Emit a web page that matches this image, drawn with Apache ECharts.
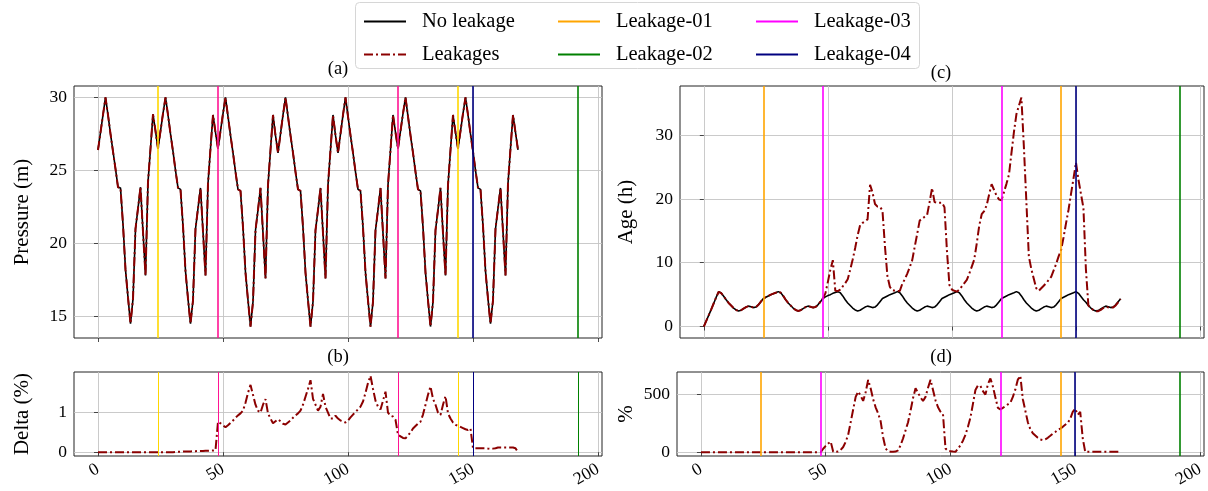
<!DOCTYPE html>
<html><head><meta charset="utf-8">
<script src="https://cdn.jsdelivr.net/npm/echarts@6/dist/echarts.min.js"></script>
<style>html,body{margin:0;padding:0;background:#fff}#c{width:1208px;height:491px}</style>
</head><body><div id="c"></div>
<script>
// ---------------- DATA (hourly, t = 0 .. 168 h) ----------------
const pressureNoLeak = [
 26.4,27.6,28.8,30.0,28.8,27.5,26.3,25.1,23.85,23.8,21.3,18.2,16.3,14.5,16.2,21.0,22.4,23.85,20.8,17.8,24.2,26.5,28.85,27.7,
 26.5,27.7,28.9,30.0,28.8,27.5,26.3,25.0,23.8,23.7,21.2,18.1,16.2,14.5,16.1,21.0,22.4,23.8,20.8,17.8,24.1,26.5,28.8,27.6,
 26.5,27.7,28.9,30.0,28.7,27.4,26.2,24.9,23.7,23.6,21.1,18.0,16.1,14.3,16.0,20.9,22.3,23.8,20.7,17.6,24.0,26.4,28.8,27.4,
 26.2,27.5,28.8,30.0,28.7,27.4,26.2,24.9,23.7,23.6,21.1,18.0,16.1,14.3,16.0,20.9,22.3,23.8,20.7,17.6,24.0,26.4,28.8,27.4,
 26.2,27.5,28.8,30.0,28.7,27.4,26.2,24.9,23.7,23.6,21.1,18.0,16.1,14.3,16.0,20.9,22.3,23.8,20.7,17.6,24.0,26.4,28.8,27.6,
 26.5,27.7,28.9,30.0,28.7,27.4,26.2,24.9,23.7,23.6,21.1,18.0,16.1,14.3,16.0,20.9,22.3,23.8,20.7,17.8,24.0,26.4,28.8,27.6,
 26.5,27.7,28.9,30.0,28.8,27.5,26.3,25.0,23.8,23.7,21.2,18.1,16.2,14.5,16.1,21.0,22.4,23.8,20.8,17.8,24.1,26.5,28.8,27.6,
 26.4
];
// leakage pressure is indistinguishable from the no-leakage curve in the picture
const pressureLeak = pressureNoLeak;

const deltaPct = [
 0,0,0,0,0,0,0,0,0,0,0,0,0,0,0,0,0,0,0,0,0,0,0,0,
 0,0,0,0,0,0,0,0.005,0.01,0.01,0.015,0.015,0.02,0.02,0.025,0.025,0.03,0.03,0.03,0.035,0.035,0.04,0.04,0.05,
 0.77,0.73,0.68,0.63,0.68,0.74,0.8,0.87,0.93,0.98,1.05,1.25,1.5,1.7,1.45,1.2,1.05,1.0,1.2,1.34,0.98,0.85,0.73,0.78,
 0.83,0.78,0.72,0.7,0.75,0.8,0.87,0.93,0.98,1.05,1.2,1.4,1.6,1.82,1.35,1.2,1.05,1.15,1.47,1.15,1.0,0.85,0.85,0.92,
 0.85,0.8,0.78,0.75,0.8,0.88,0.95,1.02,1.08,1.15,1.28,1.5,1.75,1.93,1.6,1.3,1.15,1.08,1.3,1.53,1.0,0.92,0.9,0.82,
 0.44,0.4,0.36,0.35,0.42,0.5,0.6,0.66,0.72,0.77,0.95,1.2,1.45,1.66,1.35,1.2,1.0,0.94,1.2,1.42,0.98,0.85,0.75,0.69,
 0.67,0.64,0.61,0.58,0.56,0.6,0.1,0.1,0.1,0.1,0.1,0.1,0.09,0.08,0.09,0.1,0.12,0.12,0.12,0.12,0.12,0.12,0.12,0.1,
 0.0
];

const ageNoLeak = [
 0.0,0.9,1.8,2.7,3.65,4.6,5.45,5.25,4.75,4.2,3.7,3.3,2.9,2.6,2.45,2.55,2.8,3.05,3.2,3.1,2.97,3.05,3.4,3.9,
 4.4,4.6,4.8,5.0,5.15,5.3,5.47,5.3,4.8,4.2,3.7,3.3,2.9,2.6,2.45,2.55,2.8,3.05,3.2,3.1,2.97,3.05,3.4,3.9,
 4.4,4.65,4.85,5.0,5.2,5.35,5.47,5.3,4.8,4.2,3.7,3.3,2.9,2.6,2.45,2.55,2.8,3.05,3.2,3.1,2.97,3.05,3.4,3.9,
 4.4,4.6,4.8,5.0,5.15,5.3,5.47,5.3,4.8,4.2,3.7,3.3,2.9,2.6,2.45,2.55,2.8,3.05,3.2,3.1,2.97,3.05,3.4,3.9,
 4.4,4.6,4.8,5.0,5.15,5.3,5.47,5.3,4.8,4.2,3.7,3.3,2.9,2.6,2.45,2.55,2.8,3.05,3.2,3.1,2.97,3.05,3.4,3.9,
 4.4,4.6,4.8,5.0,5.15,5.3,5.47,5.3,4.8,4.2,3.7,3.3,2.9,2.6,2.45,2.55,2.8,3.05,3.2,3.1,2.97,3.05,3.4,3.9,
 4.4,4.6,4.8,5.0,5.15,5.3,5.47,5.2,4.7,4.2,3.8,3.3,2.9,2.6,2.45,2.5,2.75,3.0,3.2,3.1,2.97,3.05,3.4,3.9,
 4.37
];

const ageLeak = [
 0.0,0.9,1.8,2.7,3.65,4.6,5.45,5.25,4.75,4.2,3.7,3.3,2.9,2.6,2.45,2.55,2.8,3.05,3.2,3.1,2.97,3.05,3.4,3.9,
 4.4,4.6,4.8,5.0,5.15,5.3,5.47,5.3,4.8,4.2,3.7,3.3,2.9,2.6,2.45,2.55,2.8,3.05,3.2,3.1,2.97,3.05,3.4,3.9,
 4.4,5.2,7.0,8.9,10.4,5.6,5.57,5.8,6.3,6.8,7.4,8.9,10.5,12.3,14.3,15.9,16.25,16.5,16.8,22.2,21.0,19.2,18.8,18.75,
 18.2,12.6,7.9,6.2,5.7,5.6,5.5,5.6,6.7,7.4,8.3,9.3,10.4,12.5,14.5,16.6,16.9,17.2,17.5,19.5,21.7,19.5,19.4,19.4,
 19.4,18.7,11.8,6.5,5.8,5.6,5.47,5.8,6.3,6.8,7.3,8.3,9.4,10.5,13.0,15.8,17.6,18.1,19.0,20.7,22.3,21.4,20.5,19.9,
 19.8,21.1,22.4,23.8,27.2,30.5,33.3,34.6,35.9,28.2,19.6,11.0,9.0,7.5,6.0,5.6,6.0,6.4,6.8,7.3,7.8,8.8,9.8,11.0,
 12.0,14.0,16.2,18.3,20.8,23.2,25.7,23.0,20.8,18.6,9.0,3.3,2.9,2.6,2.4,2.4,2.6,2.9,3.1,3.0,2.95,3.0,3.3,3.8,
 4.3
];

const agePct = [
 0,0,0,0,0,0,0,0,0,0,0,0,0,0,0,0,0,0,0,0,0,0,0,0,
 0,0,0,0,0,0,0,0,0,0,0,0,0,0,0,0,0,0,0,0,0,0,0,0,
 0,30,55,75,92,3,3,5,20,45,90,150,260,370,480,526,490,445,520,628,555,460,390,337,
 270,130,32,8,3,3,5,15,60,120,190,260,360,470,555,515,475,445,480,560,628,540,450,390,
 352,330,32,12,9,5,3,30,60,100,150,220,300,420,540,580,575,530,500,590,640,570,475,385,
 372,385,400,415,430,480,545,630,663,460,360,260,200,165,145,125,110,105,112,125,142,160,175,192,
 205,220,238,255,290,350,378,325,350,120,3,3,3,3,3,3,3,3,3,3,3,3,3,3,
 3
];

// leakage event times (h)
const leak01Times = [24, 144];
const leak02Times = [192];
const leak03Times = [48, 120];
const leak04Times = [150];

// tick labels
const xTicks = [0, 50, 100, 150, 200];
const pressureTicks = [15, 20, 25, 30];
const deltaTicks = [0, 1];
const ageTicks = [0, 10, 20, 30];
const pctTicks = [0, 500];

// ---------------- CHART ----------------
const hours = pressureNoLeak.map((_, i) => i);
const pairs = arr => arr.map((v, i) => [hours[i], v]);
function padRange(lo, hi) { const p = (hi - lo) * 0.05; return [lo - p, hi + p]; }
const allTimes = hours.concat(leak01Times, leak02Times, leak03Times, leak04Times);
const xr = padRange(Math.min(...allTimes), Math.max(...allTimes));
const pr = padRange(Math.min(...pressureNoLeak, ...pressureLeak), Math.max(...pressureNoLeak, ...pressureLeak));
const dr = padRange(Math.min(...deltaPct), Math.max(...deltaPct));
const ar = padRange(Math.min(...ageNoLeak, ...ageLeak), Math.max(...ageNoLeak, ...ageLeak));
const cr = padRange(Math.min(...agePct), Math.max(...agePct));

const FONT = '"Liberation Serif", "DejaVu Serif", serif';
const GRID_C = '#c4c4c4';
const DASHDOT = [9, 3, 2, 3];

const grids = [
  {left: 74, top: 86, width: 528, height: 252},
  {left: 74, top: 372, width: 528, height: 84},
  {left: 680, top: 86, width: 524, height: 252},
  {left: 677, top: 372, width: 527, height: 84}
].map(g => Object.assign(g, {show: true, borderColor: '#222', borderWidth: 1, backgroundColor: 'transparent', containLabel: false, outerBoundsMode: 'none'}));

function xAxisCfg(gi, showLabels) {
  return {
    type: 'value', gridIndex: gi, min: xr[0], max: xr[1],
    axisLine: {show: false},
    axisTick: {show: true, customValues: xTicks, length: 4, lineStyle: {color: '#222', width: 0.8}},
    axisLabel: {show: showLabels, customValues: xTicks, rotate: 30, margin: 12, fontFamily: FONT, fontSize: 17.5, color: '#000'},
    splitLine: {show: true, lineStyle: {color: GRID_C, width: 0.9}}
  };
}
function yAxisCfg(gi, range, ticks, name, gap) {
  return {
    type: 'value', gridIndex: gi, min: range[0], max: range[1],
    axisLine: {show: false},
    axisTick: {show: true, customValues: ticks, length: 4, lineStyle: {color: '#222', width: 0.8}},
    axisLabel: {customValues: ticks, margin: 7, fontFamily: FONT, fontSize: 17.5, color: '#000'},
    splitLine: {show: true, lineStyle: {color: GRID_C, width: 0.9}},
    name: name, nameLocation: 'middle', nameGap: gap, nameRotate: 90,
    nameTextStyle: {fontFamily: FONT, fontSize: 21, color: '#000'}
  };
}

function vlines(name, gi, times, color, width) {
  return {
    name: name, type: 'line', xAxisIndex: gi, yAxisIndex: gi, data: [], color: color,
    lineStyle: {color: color, width: 2}, symbol: 'none', z: 5,
    markLine: {
      silent: true, symbol: ['none', 'none'], label: {show: false},
      lineStyle: {color: color, width: width, type: 'solid'},
      emphasis: {disabled: true},
      animation: false,
      data: times.map(t => ({xAxis: t}))
    }
  };
}

function dataLine(name, gi, arr, color, width, dash, z) {
  return {
    name: name, type: 'line', xAxisIndex: gi, yAxisIndex: gi, data: pairs(arr),
    symbol: 'none', color: color, z: z,
    lineStyle: {color: color, width: width, type: dash || 'solid'},
    emphasis: {disabled: true}, animation: false
  };
}

const ORANGE = '#FFA500', GREEN = '#008000', MAGENTA = '#FF00FF', NAVY = '#000080';
const GOLD = '#FFD700', DEEPPINK = '#FF1493';

const series = [
  // legend-reference series first (panel c)
  vlines('Leakage-01', 2, leak01Times, ORANGE, 1.6),
  vlines('Leakage-02', 2, leak02Times, GREEN, 1.6),
  vlines('Leakage-03', 2, leak03Times, MAGENTA, 1.6),
  vlines('Leakage-04', 2, leak04Times, NAVY, 1.6),
  dataLine('No leakage', 2, ageNoLeak, '#000', 1.6, null, 3),
  dataLine('Leakages', 2, ageLeak, '#8B0000', 2, DASHDOT, 4),
  // panel a
  dataLine('No leakage', 0, pressureNoLeak, '#000', 1.6, null, 3),
  dataLine('Leakages', 0, pressureLeak, '#8B0000', 2, DASHDOT, 4),
  vlines('Leakage-01', 0, leak01Times, GOLD, 1.6),
  vlines('Leakage-02', 0, leak02Times, GREEN, 1.6),
  vlines('Leakage-03', 0, leak03Times, DEEPPINK, 1.6),
  vlines('Leakage-04', 0, leak04Times, NAVY, 1.6),
  // panel b
  dataLine('Leakages', 1, deltaPct, '#8B0000', 2, DASHDOT, 4),
  vlines('Leakage-01', 1, leak01Times, GOLD, 1),
  vlines('Leakage-02', 1, leak02Times, GREEN, 1),
  vlines('Leakage-03', 1, leak03Times, DEEPPINK, 1),
  vlines('Leakage-04', 1, leak04Times, NAVY, 1),
  // panel d
  dataLine('Leakages', 3, agePct, '#8B0000', 2, DASHDOT, 4),
  vlines('Leakage-01', 3, leak01Times, ORANGE, 1.6),
  vlines('Leakage-02', 3, leak02Times, GREEN, 1.6),
  vlines('Leakage-03', 3, leak03Times, MAGENTA, 1.6),
  vlines('Leakage-04', 3, leak04Times, NAVY, 1.6)
];

const HIDE_SYMBOL = {opacity: 0, borderWidth: 0};
function legendCol(left, items) {
  return {
    orient: 'vertical', left: left, top: 11, padding: 0, itemGap: 12,
    itemWidth: 42, itemHeight: 14, selectedMode: false,
    itemStyle: HIDE_SYMBOL,
    textStyle: {fontFamily: FONT, fontSize: 20.5, color: '#000', padding: [0, 0, 0, 11]},
    data: items.map(it => Object.assign({itemStyle: HIDE_SYMBOL}, it))
  };
}
const legends = [
  legendCol(363, [
    {name: 'No leakage', lineStyle: {color: '#000', width: 2}},
    {name: 'Leakages', lineStyle: {color: '#8B0000', width: 2, type: DASHDOT}}
  ]),
  legendCol(557, [
    {name: 'Leakage-01', lineStyle: {color: ORANGE, width: 2}},
    {name: 'Leakage-02', lineStyle: {color: GREEN, width: 2}}
  ]),
  legendCol(755, [
    {name: 'Leakage-03', lineStyle: {color: MAGENTA, width: 2}},
    {name: 'Leakage-04', lineStyle: {color: NAVY, width: 2}}
  ])
];

const titleText = (x, y, t) => ({type: 'text', x: x, y: y, z: 10,
  style: {text: t, font: '18.5px ' + FONT, fill: '#000', textAlign: 'center', textVerticalAlign: 'middle'}});

const option = {
  backgroundColor: '#fff',
  animation: false,
  grid: grids,
  xAxis: [xAxisCfg(0, false), xAxisCfg(1, true), xAxisCfg(2, false), xAxisCfg(3, true)],
  yAxis: [
    yAxisCfg(0, pr, pressureTicks, 'Pressure (m)', 41),
    yAxisCfg(1, dr, deltaTicks, 'Delta (%)', 41),
    yAxisCfg(2, ar, ageTicks, 'Age (h)', 43),
    yAxisCfg(3, cr, pctTicks, '%', 40)
  ],
  legend: legends,
  series: series,
  graphic: [
    {type: 'rect', z: -1, shape: {x: 355.5, y: 2.5, width: 564, height: 66, r: 4},
     style: {fill: 'rgba(255,255,255,0.8)', stroke: '#d6d6d6', lineWidth: 1}},
    titleText(338, 69, '(a)'),
    titleText(338, 357, '(b)'),
    titleText(941, 73, '(c)'),
    titleText(941, 357, '(d)')
  ]
};

const chart = echarts.init(document.getElementById('c'), null, {renderer: 'canvas'});
chart.setOption(option);
</script>
</body></html>
